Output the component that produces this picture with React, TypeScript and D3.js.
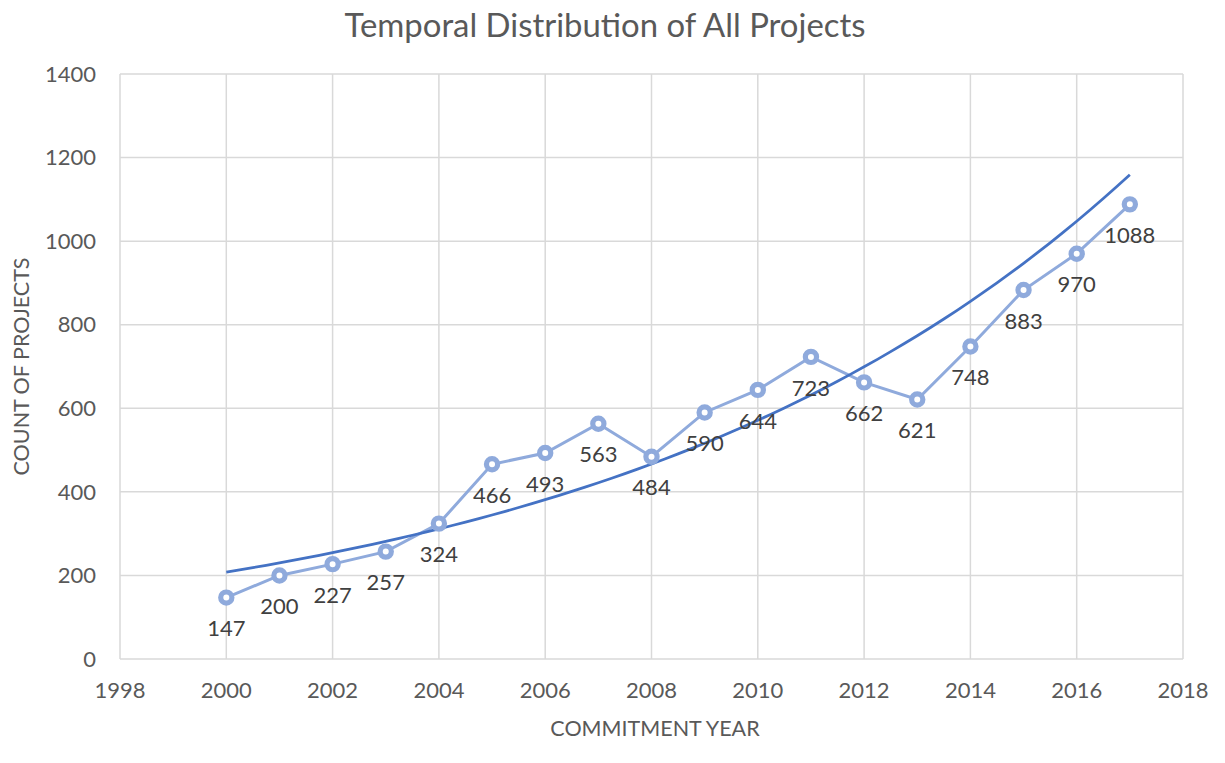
import React from "react";
import * as d3 from "d3";

const years = [2000, 2001, 2002, 2003, 2004, 2005, 2006, 2007, 2008, 2009, 2010, 2011, 2012, 2013, 2014, 2015, 2016, 2017];
const counts = [147, 200, 227, 257, 324, 466, 493, 563, 484, 590, 644, 723, 662, 621, 748, 883, 970, 1088];
const xTicks = [1998, 2000, 2002, 2004, 2006, 2008, 2010, 2012, 2014, 2016, 2018];
const yTicks = [0, 200, 400, 600, 800, 1000, 1200, 1400];

const W = 1225, H = 763;
const L = 120, R = 1183, T = 74, B = 659;
const FONT = "Lato, 'Open Sans', sans-serif";

export default function App() {
  const x = d3.scaleLinear().domain([1998, 2018]).range([L, R]);
  const y = d3.scaleLinear().domain([0, 1400]).range([B, T]);

  // Exponential trendline (least squares on ln y), as Excel does
  const t0 = years[0];
  const ts = years.map((yr) => yr - t0);
  const lns = counts.map((c) => Math.log(c));
  const mt = d3.mean(ts)!;
  const ml = d3.mean(lns)!;
  const b = d3.sum(ts.map((t, i) => (t - mt) * (lns[i] - ml))) / d3.sum(ts.map((t) => (t - mt) ** 2));
  const a = Math.exp(ml - b * mt);
  const trendPts = d3.range(0, 17.001, 0.25).map((t) => [t0 + t, a * Math.exp(b * t)] as [number, number]);

  const line = d3.line<[number, number]>().x((d) => x(d[0])).y((d) => y(d[1]));
  const dataPts = years.map((yr, i) => [yr, counts[i]] as [number, number]);

  return (
    <svg width={W} height={H} style={{ position: "absolute", left: 0, top: 0, background: "#fff" }}>
      <text x={605} y={37} textAnchor="middle" fontFamily={FONT} fontSize={32.5} fill="#595959" textLength={521} lengthAdjust="spacingAndGlyphs">
        Temporal Distribution of All Projects
      </text>
      {/* grid */}
      {yTicks.map((v) => (
        <line key={"gy" + v} x1={L} x2={R} y1={y(v)} y2={y(v)} stroke="#d9d9d9" strokeWidth={1.5} />
      ))}
      {xTicks.map((v) => (
        <line key={"gx" + v} x1={x(v)} x2={x(v)} y1={T} y2={B} stroke="#d9d9d9" strokeWidth={1.5} />
      ))}
      {/* tick labels */}
      {yTicks.map((v) => (
        <text key={"ty" + v} x={96} y={y(v)} dy="0.35em" textAnchor="end" fontFamily={FONT} fontSize={22} fill="#595959">
          {v}
        </text>
      ))}
      {xTicks.map((v) => (
        <text key={"tx" + v} x={x(v)} y={698} textAnchor="middle" fontFamily={FONT} fontSize={22} fill="#595959">
          {v}
        </text>
      ))}
      {/* axis titles */}
      <text transform={`translate(29,${(T + B) / 2}) rotate(-90)`} textAnchor="middle" fontFamily={FONT} fontSize={21.5} fill="#595959">
        COUNT OF PROJECTS
      </text>
      <text x={655} y={736} textAnchor="middle" fontFamily={FONT} fontSize={21.5} fill="#595959">
        COMMITMENT YEAR
      </text>
      {/* data line */}
      <path d={line(dataPts) || ""} fill="none" stroke="#8faadc" strokeWidth={3} />
      {/* trendline */}
      <path d={line(trendPts) || ""} fill="none" stroke="#4472c4" strokeWidth={2.75} />
      {/* markers */}
      {dataPts.map((d, i) => (
        <circle key={"m" + i} cx={x(d[0])} cy={y(d[1])} r={5.6} fill="#fff" stroke="#8faadc" strokeWidth={5.2} />
      ))}
      {/* labels */}
      {dataPts.map((d, i) => (
        <text key={"l" + i} x={x(d[0])} y={y(d[1]) + 31} dy="0.35em" textAnchor="middle" fontFamily={FONT} fontSize={22} fill="#404040">
          {d[1]}
        </text>
      ))}
    </svg>
  );
}
